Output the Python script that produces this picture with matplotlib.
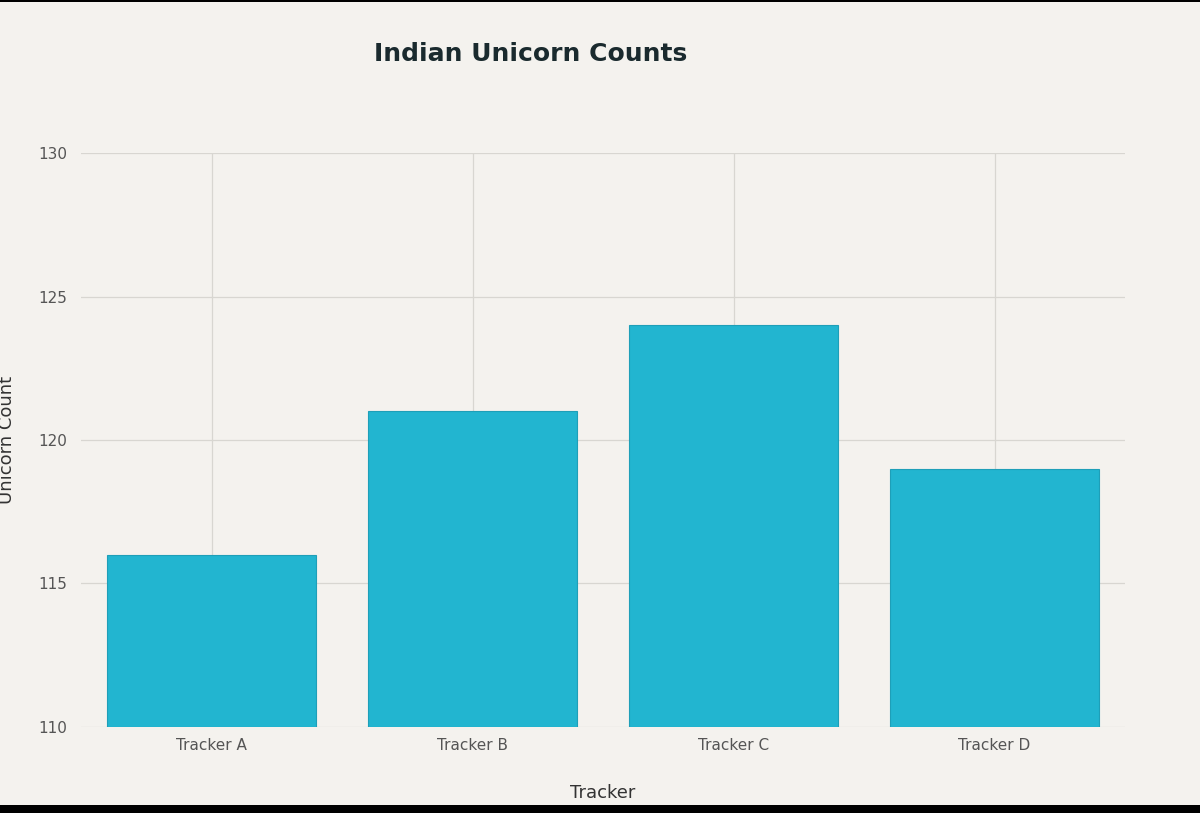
import matplotlib
matplotlib.use("Agg")
import matplotlib.pyplot as plt
from matplotlib.patches import Rectangle

trackers = ["Tracker A", "Tracker B", "Tracker C", "Tracker D"]
counts = [116, 121, 124, 119]
yticks = [110, 115, 120, 125, 130]

bg = "#f4f2ee"
fig = plt.figure(figsize=(12, 8.13), dpi=100, facecolor=bg)
ax = fig.add_axes([0.0675, 0.1058, 0.87, 0.706], facecolor=bg)
x = range(len(trackers))
ax.bar(x, [c - 110 for c in counts], bottom=110, width=0.8, color="#22b5d0",
       edgecolor="#1e9fb8", linewidth=0.8, zorder=3)
ax.set_xlim(-0.5, 3.5)
ax.set_ylim(110, 130)
ax.set_xticks(list(x))
ax.set_xticklabels(trackers)
ax.set_yticks(yticks)
ax.grid(True, color="#d8d6d1", linewidth=0.9, zorder=0)
for s in ax.spines.values():
    s.set_visible(False)
ax.tick_params(axis="both", length=0, labelsize=11, colors="#555555", pad=8)
ax.tick_params(axis="y", pad=10)
ax.set_xlabel("Tracker", fontsize=13, color="#333333", labelpad=22)
ax.set_ylabel("Unicorn Count", fontsize=13, color="#333333", labelpad=16)
fig.text(0.442, 0.934, "Indian Unicorn Counts", fontsize=18, fontweight="semibold",
         color="#1a2a2e", ha="center", va="center")
fig.patches.append(Rectangle((0, 0), 1, 0.01, transform=fig.transFigure,
                             facecolor="black", edgecolor="none"))
fig.patches.append(Rectangle((0, 0.997), 1, 0.003, transform=fig.transFigure,
                             facecolor="black", edgecolor="none"))
fig.savefig("out.png", dpi=100, facecolor=bg)
